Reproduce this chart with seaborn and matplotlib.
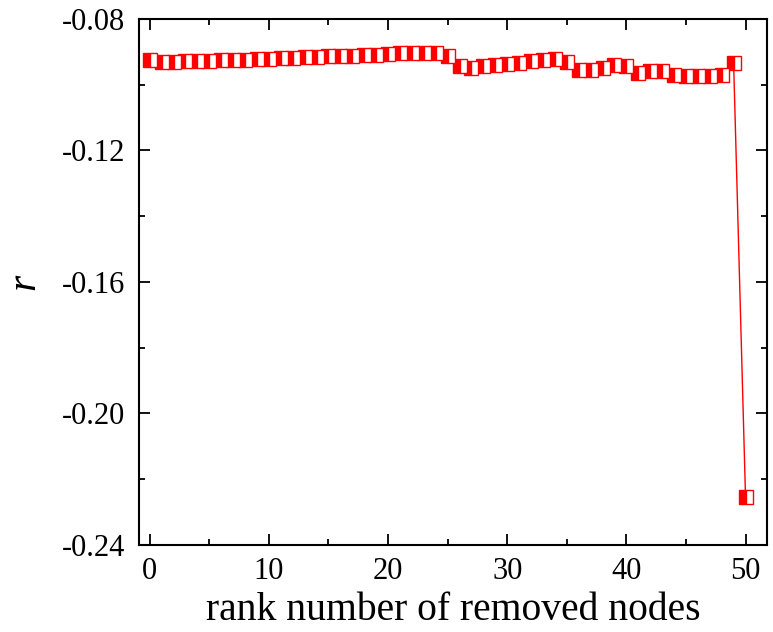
import matplotlib
matplotlib.use("Agg")
import matplotlib.pyplot as plt
from matplotlib.ticker import MultipleLocator, FormatStrFormatter
import seaborn as sns
import pandas as pd

rank = list(range(51))
r_values = [
    -0.0925, -0.0931, -0.0930, -0.0929, -0.0928, -0.0927, -0.0926, -0.0925,
    -0.0924, -0.0922, -0.0921, -0.0920, -0.0919, -0.0917, -0.0916, -0.0914,
    -0.0913, -0.0912, -0.0910, -0.0909, -0.0907, -0.0905, -0.0904, -0.0903,
    -0.0903, -0.0913, -0.0943, -0.0948, -0.0943, -0.0939, -0.0936, -0.0933,
    -0.0929, -0.0925, -0.0923, -0.0931, -0.0955, -0.0955, -0.0949, -0.0941,
    -0.0942, -0.0964, -0.0957, -0.0959, -0.0969, -0.0973, -0.0975, -0.0975,
    -0.0971, -0.0933, -0.2254,
]
x_ticks = [0, 10, 20, 30, 40, 50]
y_ticks = [-0.24, -0.20, -0.16, -0.12, -0.08]

df = pd.DataFrame({"rank": rank, "r": r_values})

sns.set_theme(style="ticks")
plt.rcParams["font.family"] = ["Liberation Serif", "DejaVu Serif"]
plt.rcParams["text.color"] = "black"
plt.rcParams["axes.labelcolor"] = "black"

fig = plt.figure(figsize=(7.73, 6.32), dpi=100)
ax = fig.add_axes([0.1798, 0.1377, 0.8124, 0.8323])

sns.lineplot(data=df, x="rank", y="r", ax=ax, color="red", linewidth=1.0,
             marker="s", markersize=10.5, fillstyle="left",
             markerfacecolor="red", markerfacecoloralt="white",
             markeredgecolor="red", markeredgewidth=1.0)

ax.set_xlim(-0.9, 51.8)
ax.set_ylim(-0.24, -0.08)
ax.set_xticks(x_ticks)
ax.set_yticks(y_ticks)
ax.xaxis.set_minor_locator(MultipleLocator(5))
ax.yaxis.set_minor_locator(MultipleLocator(0.02))
ax.yaxis.set_major_formatter(FormatStrFormatter("%.2f"))
ax.tick_params(which="both", direction="in", top=True, right=True,
               width=1.3, colors="black", labelsize=22, labelcolor="black")
ax.tick_params(which="major", length=8)
ax.tick_params(which="minor", length=4)
ax.tick_params(axis="x", which="major", pad=9)
ax.tick_params(axis="y", which="major", pad=10)
for s in ax.spines.values():
    s.set_linewidth(1.5)
    s.set_color("black")

ax.set_xlabel("rank number of removed nodes", fontsize=28.5, labelpad=4,
              color="black")
ax.set_ylabel("r", fontsize=30, style="italic", labelpad=13, color="black")

fig.savefig("out.png", dpi=100)
